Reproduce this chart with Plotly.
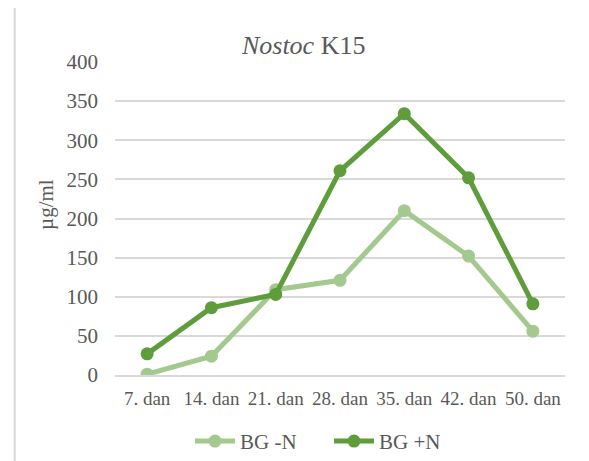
import plotly.graph_objects as go

categories = ["7. dan", "14. dan", "21. dan", "28. dan", "35. dan", "42. dan", "50. dan"]
bg_minus_n = [1, 24, 109, 121, 210, 152, 56]
bg_plus_n = [27, 86, 103, 261, 334, 252, 91]
y_ticks = [0, 50, 100, 150, 200, 250, 300, 350, 400]

FONT = "Liberation Serif"
TXT = "#595959"
GRID = "#d9d9d9"

OFF = 8  # page body margin
W, H = 589 - OFF, 461 - OFF
# plot area in reference pixel coordinates
PX0, PX1, PY0, PY1 = 115, 565, 62.3, 374.7
L, R, T, B = PX0 - OFF, W - (PX1 - OFF), PY0 - OFF, H - (PY1 - OFF)
pw, ph = PX1 - PX0, PY1 - PY0

def px(x):
    return (x - PX0) / pw

def py(y):
    return (PY1 - y) / ph

fig = go.Figure()
fig.add_trace(go.Scatter(
    x=categories, y=bg_minus_n, name="BG -N", mode="lines+markers",
    line=dict(color="#a3c98f", width=5), marker=dict(color="#a3c98f", size=13),
))
fig.add_trace(go.Scatter(
    x=categories, y=bg_plus_n, name="BG +N", mode="lines+markers",
    line=dict(color="#5e9c3c", width=5), marker=dict(color="#5e9c3c", size=13),
))

fig.update_layout(
    width=W, height=H,
    margin=dict(l=L, r=R, t=T, b=B, autoexpand=False),
    paper_bgcolor="white", plot_bgcolor="white",
    font=dict(family=FONT, color=TXT, size=19),
    title=dict(text="<i>Nostoc</i> K15", x=(303.7 - OFF) / W, xanchor="center",
               y=1 - (45 - OFF) / H, yanchor="middle",
               font=dict(family=FONT, size=26, color=TXT)),
    xaxis=dict(type="category", range=[-0.5, 6.5], showgrid=False, zeroline=False,
               showline=True, linecolor=GRID, linewidth=2, ticks="",
               tickfont=dict(family=FONT, size=19, color=TXT), ticklabelstandoff=5),
    yaxis=dict(range=[0, 400], tickvals=y_ticks, showgrid=True, gridcolor=GRID,
               gridwidth=2, zeroline=False, showline=False, ticks="",
               tickfont=dict(family=FONT, size=21, color=TXT), ticklabelstandoff=16),
    showlegend=True,
    legend=dict(orientation="h", x=px(190), xanchor="left",
                y=py(441), yanchor="middle",
                font=dict(family=FONT, size=21, color=TXT), itemwidth=40,
                entrywidth=84, traceorder="normal"),
    annotations=[dict(text="µg/ml", textangle=-90, x=px(46), y=py(205),
                      xref="paper", yref="paper", showarrow=False,
                      xanchor="center", yanchor="middle",
                      font=dict(family=FONT, size=21, color=TXT))],
    shapes=[dict(type="rect", xref="paper", yref="paper",
                 x0=px(14.7), y0=py(7.3), x1=px(700), y1=py(600),
                 line=dict(color=GRID, width=2), fillcolor="rgba(0,0,0,0)", layer="below")],
)

fig.write_html("out.html")
